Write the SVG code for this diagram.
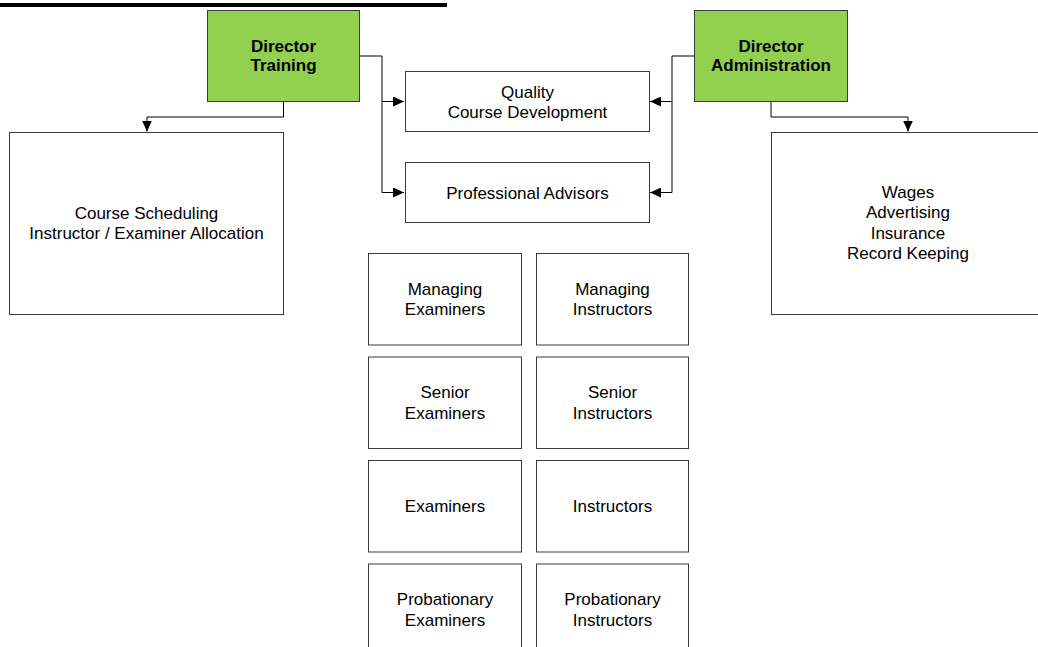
<svg xmlns="http://www.w3.org/2000/svg" width="1038" height="647" viewBox="0 0 1038 647">
<style>
.box{fill:#ffffff;stroke:#3a3a3a;stroke-width:1}
.dir{fill:#92D050;stroke:#3a3a3a;stroke-width:1}
.t{font-family:"Liberation Sans",Arial,sans-serif;font-size:17px;fill:#000;text-anchor:middle}
.b{font-weight:bold}
.c{fill:none;stroke:#000;stroke-width:1}
</style>
<defs>
<marker id="ah" viewBox="0 0 11 10" refX="11" refY="5" markerWidth="11" markerHeight="10" markerUnits="userSpaceOnUse" orient="auto">
<path d="M0,0 L11,5 L0,10 Z" fill="#000"/>
</marker>
</defs>
<rect x="0" y="3" width="447" height="4" fill="#000"/>
<g id="connectors">
<path class="c" d="M360,56 H382 V101.5 H404" marker-end="url(#ah)"/>
<path class="c" d="M382,101.5 V192.5 H404" marker-end="url(#ah)"/>
<path class="c" d="M694,56 H672 V101.5 H650" marker-end="url(#ah)"/>
<path class="c" d="M672,101.5 V192.5 H650" marker-end="url(#ah)"/>
<path class="c" d="M283.5,101 V117 H147 V131.5" marker-end="url(#ah)"/>
<path class="c" d="M771,101 V117 H908 V131.5" marker-end="url(#ah)"/>
</g>
<g id="director-training">
<rect class="dir" x="207.5" y="10.5" width="152" height="91"/>
<text class="t b" x="283.5" y="51.5">Director</text>
<text class="t b" x="283.5" y="71">Training</text>
</g>
<g id="director-administration">
<rect class="dir" x="694.5" y="10.5" width="153" height="91"/>
<text class="t b" x="771" y="51.5">Director</text>
<text class="t b" x="771" y="71">Administration</text>
</g>
<g id="quality">
<rect class="box" x="405.5" y="71.5" width="244" height="60"/>
<text class="t" x="527.5" y="97.5">Quality</text>
<text class="t" x="527.5" y="117.5">Course Development</text>
</g>
<g id="advisors">
<rect class="box" x="405.5" y="162.5" width="244" height="60"/>
<text class="t" x="527.5" y="198.5">Professional Advisors</text>
</g>
<g id="scheduling">
<rect class="box" x="9.5" y="132.5" width="274" height="182"/>
<text class="t" x="146.5" y="218.5">Course Scheduling</text>
<text class="t" x="146.5" y="239">Instructor / Examiner Allocation</text>
</g>
<g id="admin-tasks">
<rect class="box" x="771.5" y="132.5" width="274" height="182"/>
<text class="t" x="908" y="197.5">Wages</text>
<text class="t" x="908" y="218">Advertising</text>
<text class="t" x="908" y="238.5">Insurance</text>
<text class="t" x="908" y="259">Record Keeping</text>
</g>
<g id="managing-examiners">
<rect class="box" x="368.5" y="253.5" width="153" height="91.5"/>
<text class="t" x="445" y="294.5">Managing</text>
<text class="t" x="445" y="315">Examiners</text>
</g>
<g id="managing-instructors">
<rect class="box" x="536.5" y="253.5" width="152" height="91.5"/>
<text class="t" x="612.5" y="294.5">Managing</text>
<text class="t" x="612.5" y="315">Instructors</text>
</g>
<g id="senior-examiners">
<rect class="box" x="368.5" y="357" width="153" height="91.5"/>
<text class="t" x="445" y="398">Senior</text>
<text class="t" x="445" y="418.5">Examiners</text>
</g>
<g id="senior-instructors">
<rect class="box" x="536.5" y="357" width="152" height="91.5"/>
<text class="t" x="612.5" y="398">Senior</text>
<text class="t" x="612.5" y="418.5">Instructors</text>
</g>
<g id="examiners">
<rect class="box" x="368.5" y="460.5" width="153" height="91.5"/>
<text class="t" x="445" y="511.5">Examiners</text>
</g>
<g id="instructors">
<rect class="box" x="536.5" y="460.5" width="152" height="91.5"/>
<text class="t" x="612.5" y="511.5">Instructors</text>
</g>
<g id="probationary-examiners">
<rect class="box" x="368.5" y="564" width="153" height="91.5"/>
<text class="t" x="445" y="605">Probationary</text>
<text class="t" x="445" y="625.5">Examiners</text>
</g>
<g id="probationary-instructors">
<rect class="box" x="536.5" y="564" width="152" height="91.5"/>
<text class="t" x="612.5" y="605">Probationary</text>
<text class="t" x="612.5" y="625.5">Instructors</text>
</g>
</svg>
